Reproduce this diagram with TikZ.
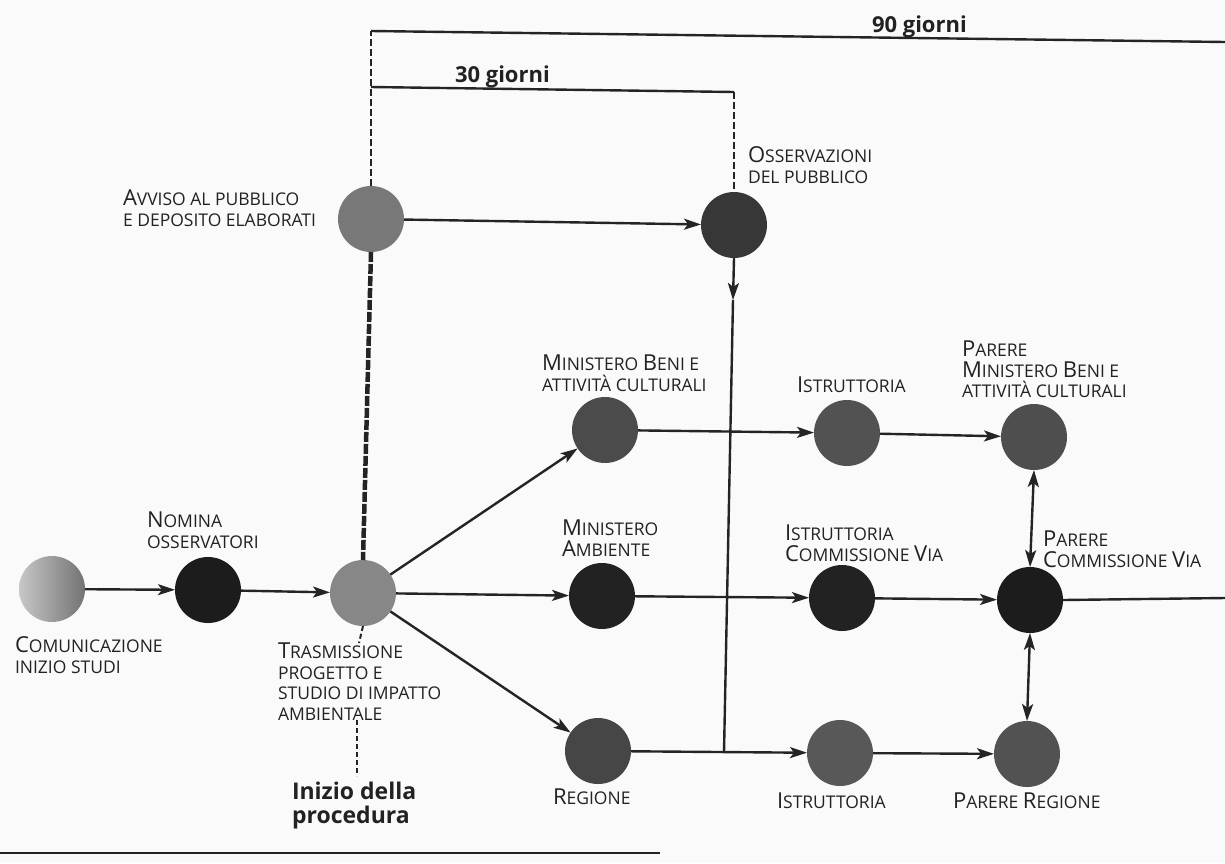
\documentclass[tikz,border=0pt]{standalone}
\usepackage{fontspec}
\setmainfont{Open Sans}
\usetikzlibrary{arrows.meta}
\definecolor{txt}{HTML}{222222}
\definecolor{ln}{HTML}{242424}
\definecolor{bg}{HTML}{FAFAFA}
\newcommand\Bg[1]{{\fontsize{22}{22}\selectfont #1}}
\begin{document}
\begin{tikzpicture}[x=1pt,y=-1pt,
  dot/.style={circle, minimum size=66pt, inner sep=0pt, outer sep=0pt, draw=none},
  tipA/.tip={Stealth[length=17pt,width=11pt,inset=4pt]},
  arr/.style={-tipA, line width=2.4pt, draw=ln},
  dbl/.style={tipA-tipA, line width=2.4pt, draw=ln},
  plain/.style={line width=2.4pt, draw=ln},
  dashtop/.style={line width=2.2pt, draw=ln, dash pattern=on 7pt off 3pt},
  dashthick/.style={line width=4.5pt, draw=ln, dash pattern=on 10pt off 2pt},
  dashthin/.style={line width=2pt, draw=ln, dash pattern=on 5pt off 3pt},
  lab/.style={anchor=north west, inner sep=0pt, outer sep=0pt, align=left, text=txt, font=\fontsize{17.5}{20.6}\selectfont},
  blab/.style={inner sep=0pt, outer sep=0pt, text=txt, font=\bfseries\fontsize{22}{24}\selectfont}
]
\fill[bg] (0,0) rectangle (1225,863);
\useasboundingbox (0,0) rectangle (1225,863);

% circles
\node[dot, left color=black!22, right color=black!55] (com) at (52,589) {};
\node[dot, fill={rgb,255:red,28;green,28;blue,28}] (nom) at (208,590) {};
\node[dot, fill={rgb,255:red,135;green,135;blue,135}] (tra) at (363,593) {};
\node[dot, fill={rgb,255:red,120;green,120;blue,120}] (avv) at (371,219) {};
\node[dot, fill={rgb,255:red,55;green,55;blue,55}] (oss) at (734,225) {};
\node[dot, fill={rgb,255:red,75;green,75;blue,75}] (mbc) at (605,430) {};
\node[dot, fill={rgb,255:red,34;green,34;blue,34}] (mam) at (602,596) {};
\node[dot, fill={rgb,255:red,70;green,70;blue,70}] (reg) at (598,751) {};
\node[dot, fill={rgb,255:red,82;green,82;blue,82}] (ist1) at (847,433) {};
\node[dot, fill={rgb,255:red,34;green,34;blue,34}] (ist2) at (842,598) {};
\node[dot, fill={rgb,255:red,88;green,88;blue,88}] (ist3) at (840,753) {};
\node[dot, fill={rgb,255:red,78;green,78;blue,78}] (pmb) at (1034,437) {};
\node[dot, fill={rgb,255:red,28;green,28;blue,28}] (pcv) at (1030,600) {};
\node[dot, fill={rgb,255:red,82;green,82;blue,82}] (prg) at (1027,754) {};

% helper coordinates
\coordinate (c90) at (371,31);
\coordinate (e90) at (1225,42);
\coordinate (c30a) at (371,87);
\coordinate (c30b) at (734,92);
\coordinate (j1) at (733,300);
\coordinate (j2) at (724,752);
\coordinate (rout) at (1225,598);
\coordinate (dt1) at (359,643);
\coordinate (dt2) at (357,720);
\coordinate (dt3) at (357,776);
\coordinate (bl1) at (0,853);
\coordinate (bl2) at (660,853);

% time brackets
\draw[dashtop] (avv.north) -- (c90);
\draw[plain] (c90) -- (e90);
\draw[plain] (c30a) -- (c30b);
\draw[dashtop] (c30b) -- (oss.north);
\draw[dashthick] (avv.south) -- (tra.north);
\draw[dashthin] (tra.south) -- (dt1);
\draw[dashthin] (dt2) -- (dt3);
\draw[plain] (bl1) -- (bl2);

% connectors
\draw[arr] (com) -- (nom);
\draw[arr] (nom) -- (tra);
\draw[arr] (tra) -- (mbc);
\draw[arr] (tra) -- (mam);
\draw[arr] (tra) -- (reg);
\draw[arr] (avv) -- (oss);
\draw[arr] (oss.south) -- (j1);
\draw[plain] (j1) -- (j2);
\draw[arr] (mbc) -- (ist1);
\draw[arr] (ist1) -- (pmb);
\draw[arr] (mam) -- (ist2);
\draw[arr] (ist2) -- (pcv);
\draw[plain] (pcv.east) -- (rout);
\draw[arr] (reg) -- (ist3);
\draw[arr] (ist3) -- (prg);
\draw[dbl] (pmb.south) -- (pcv.north);
\draw[dbl] (pcv.south) -- (prg.north);

% labels
\node[lab] (tcom) at (15,637) {\Bg{C}OMUNICAZIONE\\INIZIO STUDI};
\node[lab] (tnom) at (147,512) {\Bg{N}OMINA\\OSSERVATORI};
\node[lab] (ttra) at (278,643) {\Bg{T}RASMISSIONE\\PROGETTO E\\STUDIO DI IMPATTO\\AMBIENTALE};
\node[lab] (tavv) at (123,190) {\Bg{A}VVISO AL PUBBLICO\\E DEPOSITO ELABORATI};
\node[lab] (toss) at (748,147) {\Bg{O}SSERVAZIONI\\DEL PUBBLICO};
\node[lab] (tmbc) at (542,355) {\Bg{M}INISTERO \Bg{B}ENI E\\ATTIVITÀ CULTURALI};
\node[lab] (tist1) at (797,377) {\Bg{I}STRUTTORIA};
\node[lab] (tmam) at (562,520) {\Bg{M}INISTERO\\\Bg{A}MBIENTE};
\node[lab] (tist2) at (785,525) {\Bg{I}STRUTTORIA\\\Bg{C}OMMISSIONE \Bg{V}IA};
\node[lab] (tpmb) at (962,341) {\Bg{P}ARERE\\\Bg{M}INISTERO \Bg{B}ENI E\\ATTIVITÀ CULTURALI};
\node[lab] (tpcv) at (1043,531) {\Bg{P}ARERE\\\Bg{C}OMMISSIONE \Bg{V}IA};
\node[lab] (treg) at (553,789) {\Bg{R}EGIONE};
\node[lab] (tist3) at (777,793) {\Bg{I}STRUTTORIA};
\node[lab] (tprg) at (953,793) {\Bg{P}ARERE \Bg{R}EGIONE};
\node[blab, anchor=north west, align=left, font=\bfseries\fontsize{23}{24.5}\selectfont] (tini) at (292,782) {Inizio della\\procedura};
\node[blab, anchor=base west] (t30) at (455,82) {30 giorni};
\node[blab, anchor=base west] (t90) at (872,32) {90 giorni};
\end{tikzpicture}
\end{document}
